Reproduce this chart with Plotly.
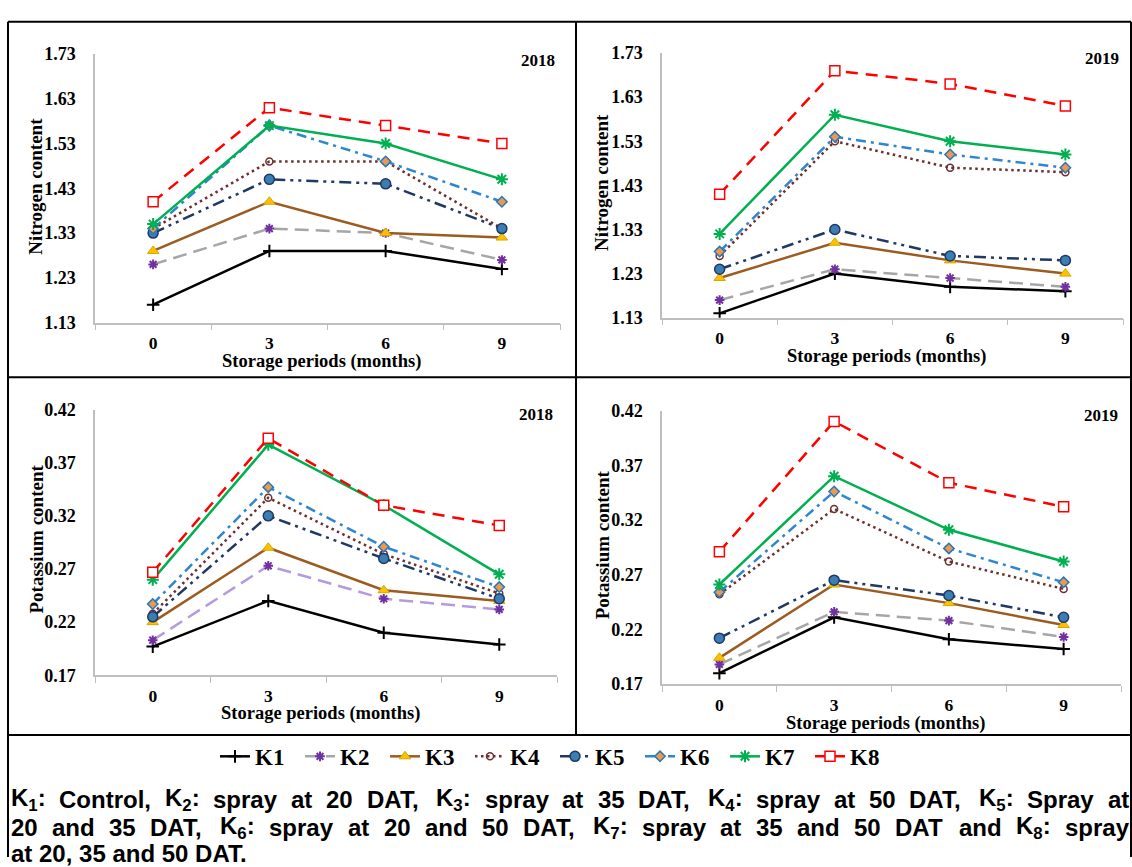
import plotly.graph_objects as go

# ---------------- data ----------------
months = ["0", "3", "6", "9"]
treatments = ["K1", "K2", "K3", "K4", "K5", "K6", "K7", "K8"]

nitrogen_2018 = [
    [1.17, 1.29, 1.29, 1.25],
    [1.26, 1.34, 1.33, 1.27],
    [1.29, 1.40, 1.33, 1.32],
    [1.34, 1.49, 1.49, 1.34],
    [1.33, 1.45, 1.44, 1.34],
    [1.34, 1.57, 1.49, 1.40],
    [1.35, 1.57, 1.53, 1.45],
    [1.40, 1.61, 1.57, 1.53],
]
nitrogen_2019 = [
    [1.14, 1.23, 1.20, 1.19],
    [1.17, 1.24, 1.22, 1.20],
    [1.22, 1.30, 1.26, 1.23],
    [1.27, 1.53, 1.47, 1.46],
    [1.24, 1.33, 1.27, 1.26],
    [1.28, 1.54, 1.50, 1.47],
    [1.32, 1.59, 1.53, 1.50],
    [1.41, 1.69, 1.66, 1.61],
]
potassium_2018 = [
    [0.197, 0.240, 0.210, 0.199],
    [0.203, 0.273, 0.242, 0.232],
    [0.220, 0.290, 0.250, 0.240],
    [0.228, 0.337, 0.284, 0.247],
    [0.225, 0.320, 0.280, 0.242],
    [0.237, 0.347, 0.291, 0.253],
    [0.260, 0.387, 0.330, 0.265],
    [0.267, 0.393, 0.330, 0.311],
]
potassium_2019 = [
    [0.180, 0.231, 0.211, 0.202],
    [0.188, 0.236, 0.228, 0.213],
    [0.194, 0.261, 0.244, 0.224],
    [0.252, 0.330, 0.282, 0.257],
    [0.212, 0.265, 0.251, 0.231],
    [0.254, 0.346, 0.294, 0.263],
    [0.261, 0.360, 0.311, 0.282],
    [0.291, 0.410, 0.354, 0.332],
]

caption_lines = [
    "K<sub>1</sub>: Control, K<sub>2</sub>: spray at 20 DAT, K<sub>3</sub>: spray at 35 DAT, "
    "K<sub>4</sub>: spray at 50 DAT, K<sub>5</sub>: Spray at",
    "20 and 35 DAT, K<sub>6</sub>: spray at 20 and 50 DAT, K<sub>7</sub>: spray at 35 and 50 DAT "
    "and K<sub>8</sub>:  spray",
    "at 20, 35 and 50 DAT.",
]

# ---------------- styles ----------------
W, H = 1132, 867


def px(x):
    return x / W


def py(y):
    return 1 - y / H


styles = [
    dict(color="#000000", dash="solid",
         marker=dict(symbol="cross-thin", size=9, color="#000000",
                     line=dict(color="#000000", width=2))),
    dict(color="#a6a6a6", dash="14px,7px",
         marker=dict(symbol="asterisk", size=8, color="#7030a0",
                     line=dict(color="#7030a0", width=2))),
    dict(color="#9c5b1f", dash="solid",
         marker=dict(symbol="triangle-up", size=10, color="#ffc000",
                     line=dict(color="#d4a800", width=1))),
    dict(color="#6e2f2f", dash="2.5px,3.5px",
         marker=dict(symbol="circle-open", size=7, color="#6e2f2f",
                     line=dict(color="#6e2f2f", width=1.5))),
    dict(color="#1f3864", dash="12px,5px,3px,5px,3px,5px",
         marker=dict(symbol="circle", size=10, color="#3b7eb3",
                     line=dict(color="#1f3864", width=1.5))),
    dict(color="#2e86d0", dash="10px,5px,3px,5px",
         marker=dict(symbol="diamond", size=8, color="#e59b52",
                     line=dict(color="#2e75b6", width=1.5))),
    dict(color="#00b050", dash="solid",
         marker=dict(symbol="asterisk", size=10, color="#00b050",
                     line=dict(color="#00b050", width=2))),
    dict(color="#ff0000", dash="12px,8px",
         marker=dict(symbol="square", size=10, color="#ffffff",
                     line=dict(color="#ff0000", width=1.5))),
]

serif_bold = dict(family="Liberation Serif, Times New Roman, serif", color="black", weight="bold")

# panel boxes in screen pixels: (x0, x1, y_top, y_bottom)
panels = [
    dict(data=nitrogen_2018, box=(95, 560, 45, 320), rng=(1.13, 1.73), dtick=0.1,
         ytitle="Nitrogen content", year="2018", year_pos=(538, 52),
         ytitle_pos=(36, 181), xtitle_y=360, k2color="#a6a6a6"),
    dict(data=nitrogen_2019, box=(662, 1123, 44, 315), rng=(1.13, 1.73), dtick=0.1,
         ytitle="Nitrogen content", year="2019", year_pos=(1102, 50),
         ytitle_pos=(602, 177), xtitle_y=355, k2color="#a6a6a6"),
    dict(data=potassium_2018, box=(95, 557, 409, 681), rng=(0.17, 0.42), dtick=0.05,
         ytitle="Potassium content", year="2018", year_pos=(536, 414),
         ytitle_pos=(36, 542), xtitle_y=720, k2color="#b49ade"),
    dict(data=potassium_2019, box=(662, 1121, 410, 690), rng=(0.17, 0.42), dtick=0.05,
         ytitle="Potassium content", year="2019", year_pos=(1101, 415),
         ytitle_pos=(602, 548), xtitle_y=730, k2color="#a6a6a6"),
]

fig = go.Figure()
annotations = []
layout_axes = {}

for i, p in enumerate(panels, start=1):
    xa = "x" if i == 1 else f"x{i}"
    ya = "y" if i == 1 else f"y{i}"
    x0, x1, yt, yb = p["box"]
    for j, name in enumerate(treatments):
        st = styles[j]
        line_color = p["k2color"] if name == "K2" else st["color"]
        fig.add_trace(go.Scatter(
            x=months, y=p["data"][j], name=name, mode="lines+markers",
            line=dict(color=line_color, width=2.5, dash=st["dash"]),
            marker=st["marker"], xaxis=xa, yaxis=ya,
            legendgroup=name, showlegend=(i == 1),
        ))
    xkey = "xaxis" if i == 1 else f"xaxis{i}"
    ykey = "yaxis" if i == 1 else f"yaxis{i}"
    layout_axes[xkey] = dict(
        domain=[px(x0), px(x1)], anchor=ya, type="category",
        categoryorder="array", categoryarray=months, range=[-0.5, 3.5],
        tickson="boundaries", ticks="outside", ticklen=6, tickcolor="#bfbfbf",
        showline=True, linecolor="#bfbfbf", linewidth=1.5,
        showgrid=False, zeroline=False,
        tickfont=dict(size=17.5, **serif_bold), ticklabelstandoff=4,
    )
    layout_axes[ykey] = dict(
        domain=[py(yb), py(yt)], anchor=xa, range=list(p["rng"]),
        tick0=p["rng"][0], dtick=p["dtick"], tickformat=".2f",
        ticks="", showline=True, linecolor="#bfbfbf", linewidth=1.5,
        showgrid=False, zeroline=False,
        tickfont=dict(size=18, **serif_bold), ticklabelstandoff=14,
    )
    annotations.append(dict(
        text=p["ytitle"], x=px(p["ytitle_pos"][0]), y=py(p["ytitle_pos"][1]),
        xref="paper", yref="paper", showarrow=False, textangle=-90,
        xanchor="center", yanchor="middle", font=dict(size=19, **serif_bold)))
    annotations.append(dict(
        text="Storage periods (months)", x=px((x0 + x1) / 2 - 6), y=py(p["xtitle_y"]),
        xref="paper", yref="paper", showarrow=False, borderpad=0,
        xanchor="center", yanchor="middle", font=dict(size=18.5, **serif_bold)))
    annotations.append(dict(
        text=p["year"], x=px(p["year_pos"][0]), y=py(p["year_pos"][1]),
        xref="paper", yref="paper", showarrow=False,
        xanchor="center", yanchor="middle", font=dict(size=17, **serif_bold)))

# ---- caption: justified lines (Arial/Liberation Sans Bold advance widths, per 1000 em) ----
ADV = {" ": 278, ",": 278, ".": 278, ":": 333, "A": 722, "C": 722, "D": 722, "K": 722,
       "S": 667, "T": 611, "a": 556, "d": 611, "l": 278, "n": 611, "o": 611, "p": 611,
       "r": 389, "s": 556, "t": 333, "y": 556}
for dgt in "0123456789":
    ADV[dgt] = 556


def word_width(word, size):
    total = 0.0
    rest = word
    while rest:
        if rest.startswith("<sub>"):
            end = rest.index("</sub>")
            for ch in rest[5:end]:
                total += ADV.get(ch, 556) * 0.7
            rest = rest[end + 6:]
        else:
            total += ADV.get(rest[0], 556)
            rest = rest[1:]
    return total * size / 1000.0


cap_size = 24
cap_font = dict(family="Liberation Sans, Arial, sans-serif", size=cap_size, color="black", weight="bold")
cap_left, cap_right = 10, 1128
cap_y = [808, 837, 863]
for k, (txt, yy) in enumerate(zip(caption_lines, cap_y)):
    if k == len(caption_lines) - 1:
        annotations.append(dict(
            text=txt, x=px(cap_left), y=py(yy), xref="paper", yref="paper", showarrow=False,
            xanchor="left", yanchor="middle", align="left", font=cap_font, borderpad=0))
        continue
    words = [w for w in txt.split(" ") if w]
    widths = [word_width(w, cap_size) for w in words]
    gap = (cap_right - cap_left - sum(widths)) / (len(words) - 1)
    xpos = cap_left
    for w, ww in zip(words, widths):
        annotations.append(dict(
            text=w, x=px(xpos), y=py(yy), xref="paper", yref="paper", showarrow=False,
            xanchor="left", yanchor="middle", align="left", font=cap_font, borderpad=0))
        xpos += ww + gap

# table borders
border = dict(color="black", width=2)
shapes = [
    dict(type="line", xref="paper", yref="paper", x0=px(8), x1=px(1131), y0=py(12), y1=py(12), line=border),
    dict(type="line", xref="paper", yref="paper", x0=px(8), x1=px(8), y0=py(12), y1=py(867), line=border),
    dict(type="line", xref="paper", yref="paper", x0=px(1131), x1=px(1131), y0=py(12), y1=py(867), line=border),
    dict(type="line", xref="paper", yref="paper", x0=px(576), x1=px(576), y0=py(12), y1=py(742), line=border),
    dict(type="line", xref="paper", yref="paper", x0=px(8), x1=px(1131), y0=py(376), y1=py(376), line=border),
    dict(type="line", xref="paper", yref="paper", x0=px(8), x1=px(1131), y0=py(742), y1=py(742), line=border),
]

fig.update_layout(
    width=W, height=H, autosize=False,
    margin=dict(l=0, r=0, t=0, b=0),
    paper_bgcolor="white", plot_bgcolor="white",
    showlegend=True,
    legend=dict(orientation="h", x=px(555), y=py(764), xanchor="center", yanchor="middle",
                font=dict(size=23, **serif_bold), itemwidth=30, tracegroupgap=0,
                entrywidth=40, bgcolor="rgba(0,0,0,0)"),
    annotations=annotations, shapes=shapes,
    **layout_axes,
)

fig.write_html("out.html", config={"displayModeBar": False},
               post_script="document.body.style.margin='0';document.body.style.overflow='hidden';")
